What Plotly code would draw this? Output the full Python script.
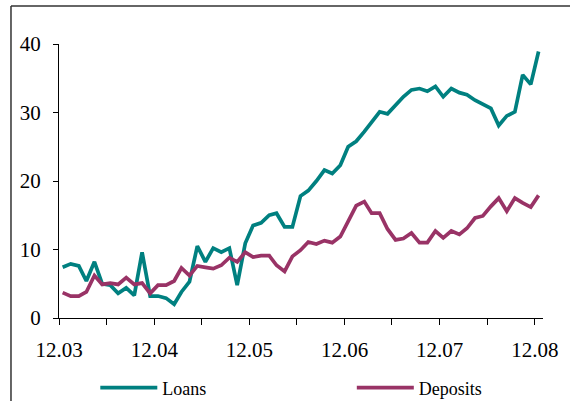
import plotly.graph_objects as go

# monthly observations, Dec 2003 .. Dec 2008
months = [f"{2003 + (11 + i) // 12}-{(11 + i) % 12 + 1:02d}-15" for i in range(61)]

loans = [7.4, 7.9, 7.6, 5.4, 8.2, 5.0, 4.8, 3.6, 4.4, 3.3,
         9.6, 3.2, 3.2, 2.9, 2.0, 3.8, 5.3, 10.5, 8.2, 10.2,
         9.6, 10.2, 4.8, 10.9, 13.5, 13.9, 15.0, 15.3, 13.3, 13.3,
         17.8, 18.6, 20.0, 21.6, 21.1, 22.3, 25.0, 25.8, 27.2, 28.6,
         30.1, 29.8, 31.0, 32.3, 33.3, 33.5, 33.1, 33.8, 32.3, 33.5,
         32.9, 32.6, 31.8, 31.2, 30.6, 28.1, 29.5, 30.1, 35.5, 34.1,
         38.9]

deposits = [3.7, 3.2, 3.2, 3.8, 6.2, 4.9, 5.1, 4.9, 5.9, 4.9,
            5.1, 3.6, 4.8, 4.8, 5.4, 7.3, 6.2, 7.6, 7.4, 7.2,
            7.7, 8.8, 8.2, 9.6, 8.9, 9.1, 9.1, 7.7, 6.8, 9.0,
            9.9, 11.1, 10.8, 11.3, 11.0, 11.9, 14.1, 16.4, 17.0, 15.3,
            15.3, 13.0, 11.4, 11.6, 12.4, 11.0, 11.0, 12.7, 11.7, 12.7,
            12.2, 13.1, 14.6, 14.9, 16.3, 17.5, 15.6, 17.5, 16.8, 16.2,
            17.9]

# ticks every half year, labels only at December
tick_dates = [f"{y}-{m:02d}-01" for y in range(2003, 2009) for m in (6, 12)][1:]
tick_text = [f"12.{d[2:4]}" if d[5:7] == "12" else "" for d in tick_dates]

fig = go.Figure()
fig.add_trace(go.Scatter(x=months, y=loans, mode="lines", name="Loans",
                         line=dict(color="#008080", width=3.7)))
fig.add_trace(go.Scatter(x=months, y=deposits, mode="lines", name="Deposits",
                         line=dict(color="#993366", width=3.7), legend="legend2"))

font = "Liberation Serif, Times New Roman, serif"

fig.update_xaxes(type="date", range=["2003-12-01", "2009-01-01"],
                 tickvals=tick_dates, ticktext=tick_text,
                 ticks="outside", ticklen=6, tickcolor="black",
                 showline=True, linecolor="black", linewidth=1,
                 showgrid=False, zeroline=False, automargin=False,
                 ticklabelstandoff=7,
                 tickfont=dict(family=font, size=21, color="black"))
fig.update_yaxes(range=[0, 40], tickvals=[0, 10, 20, 30, 40],
                 ticks="outside", ticklen=5, tickcolor="black",
                 showline=True, linecolor="black", linewidth=1,
                 showgrid=False, zeroline=False, automargin=False,
                 ticklabelstandoff=8,
                 tickfont=dict(family=font, size=21, color="black"))

# outer frame (left and top edges visible)
fig.add_shape(type="line", xref="paper", yref="paper",
              x0=-0.0992, x1=-0.0992, y0=-0.35, y1=1.1387,
              line=dict(color="#333333", width=1.5))
fig.add_shape(type="line", xref="paper", yref="paper",
              x0=-0.0992, x1=1.1, y0=1.1387, y1=1.1387,
              line=dict(color="#333333", width=1.5))

fig.update_layout(
    width=570, height=401,
    margin=dict(l=59, r=27, t=44, b=83, autoexpand=False),
    paper_bgcolor="white", plot_bgcolor="white",
    font=dict(family=font, color="black"),
    showlegend=True,
    legend=dict(orientation="h", x=0.075, xanchor="left", y=-0.255, yanchor="middle",
                itemwidth=57, bgcolor="rgba(0,0,0,0)",
                font=dict(family=font, size=18, color="black")),
    legend2=dict(orientation="h", x=0.605, xanchor="left", y=-0.255, yanchor="middle",
                 itemwidth=57, bgcolor="rgba(0,0,0,0)",
                 font=dict(family=font, size=18, color="black")),
)

fig.write_html("out.html", config={"displayModeBar": False},
               post_script="document.body.style.margin='0';")
